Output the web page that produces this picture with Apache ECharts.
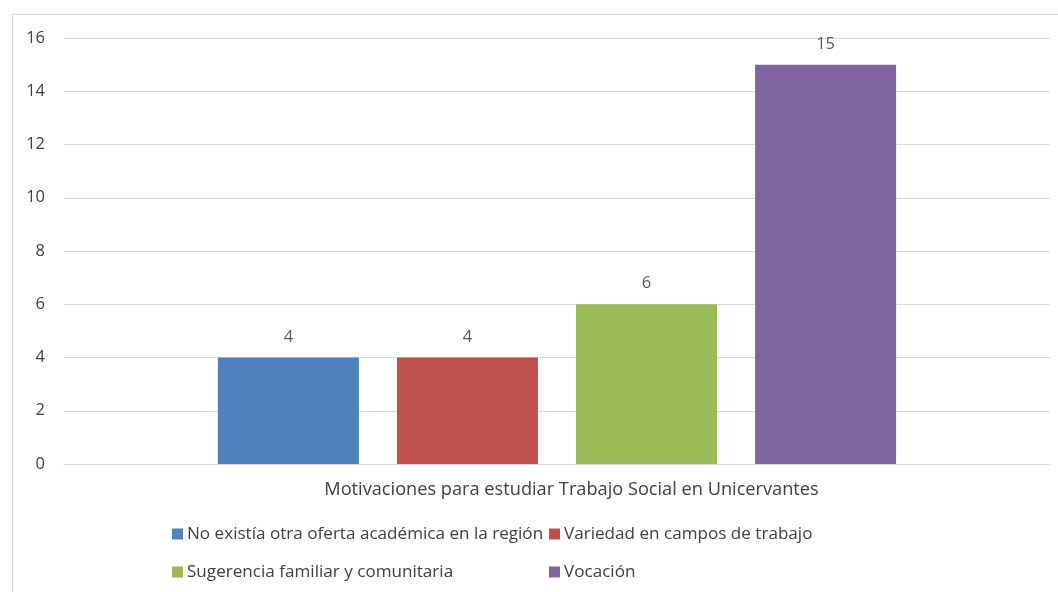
<!DOCTYPE html>
<html><head><meta charset="utf-8">
<script src="https://cdn.jsdelivr.net/npm/echarts@6/dist/echarts.min.js"></script>
<style>html,body{margin:0;padding:0;background:#fff}#c{width:1058px;height:592px;position:relative}
#frame{position:absolute;left:12px;top:14px;width:1060px;height:600px;border:1px solid #d9d9d9;box-sizing:border-box;pointer-events:none}</style>
</head><body><div id="c"></div><div id="frame" style="position:absolute"></div>
<script>
const categories = ['Motivaciones para estudiar Trabajo Social en Unicervantes'];
const seriesNames = ['No existía otra oferta académica en la región', 'Variedad en campos de trabajo', 'Sugerencia familiar y comunitaria', 'Vocación'];
const seriesValues = [[4], [4], [6], [15]];
const seriesColors = ['#4F81BD', '#C0504D', '#9BBB59', '#8064A2'];
const yTicks = {min: 0, max: 16, interval: 2};

const font = '"Open Sans", sans-serif';
const fs = 16.5;
const legendText = {fontFamily: font, fontSize: 17.1, lineHeight: 20, color: '#404040', padding: [0, 0, 0, -1]};
const chart = echarts.init(document.getElementById('c'));
chart.setOption({
  animation: false,
  textStyle: {fontFamily: font},
  grid: {left: 64, right: 8, top: 38, bottom: 128, containLabel: false},
  legend: [
    {data: [seriesNames[0], seriesNames[2]], orient: 'vertical', left: 167, top: 519, itemWidth: 11, itemHeight: 11, itemGap: 18, icon: 'rect', textStyle: legendText},
    {data: [seriesNames[1], seriesNames[3]], orient: 'vertical', left: 544, top: 519, itemWidth: 11, itemHeight: 11, itemGap: 18, icon: 'rect', textStyle: legendText}
  ],
  xAxis: {type: 'category', data: categories,
    axisLine: {lineStyle: {color: '#d9d9d9', width: 1}}, axisTick: {show: false},
    axisLabel: {fontFamily: font, fontSize: 18.2, color: '#404040', margin: 17, padding: [0, 0, 0, 29]}},
  yAxis: {type: 'value', min: yTicks.min, max: yTicks.max, interval: yTicks.interval,
    axisLine: {show: false}, axisTick: {show: false},
    splitLine: {lineStyle: {color: '#d9d9d9', width: 1}},
    axisLabel: {fontFamily: font, fontSize: fs, color: '#404040', margin: 19}},
  series: seriesNames.map((n, i) => ({
    name: n, type: 'bar', data: seriesValues[i], barWidth: 141, barGap: '27%',
    itemStyle: {color: seriesColors[i]},
    label: {show: true, position: 'top', distance: 12, fontFamily: font, fontSize: fs, color: '#595959'}
  }))
});
</script></body></html>
